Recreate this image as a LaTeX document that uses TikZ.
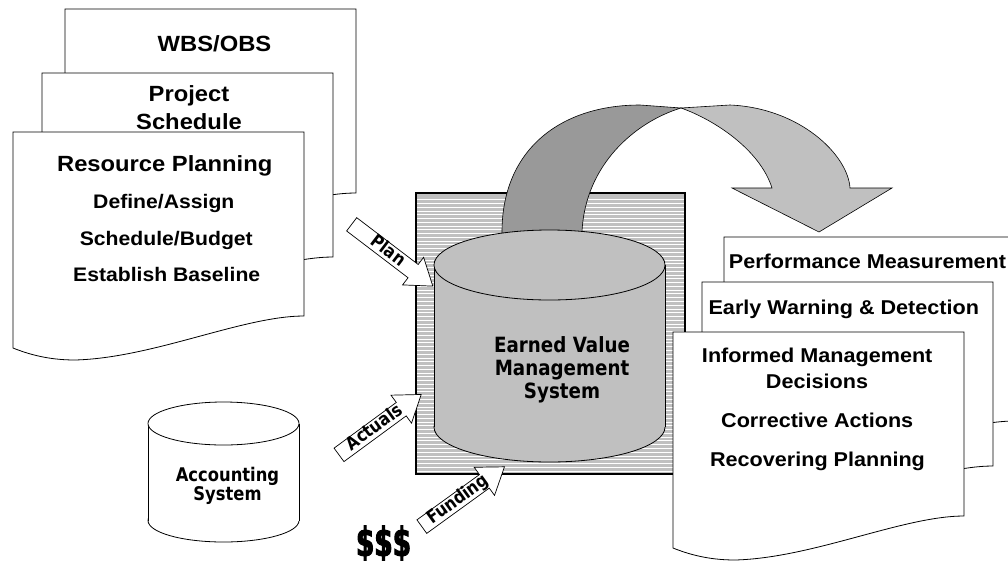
\documentclass[tikz,border=0pt]{standalone}
\usepackage{fontspec}
\usepackage{tikz}
\usetikzlibrary{positioning}
\usetikzlibrary{shapes.arrows}
\newfontfamily\pagefont[FakeStretch=1.08]{Liberation Sans}
\newfontfamily\evfont[FakeStretch=0.87]{DejaVu Sans}
\newfontfamily\dollarfont[FakeStretch=0.66, FakeBold=2.5]{DejaVu Sans Bold}
\definecolor{evgray}{RGB}{192,192,192}
\definecolor{ribbongray}{RGB}{153,153,153}

\tikzset{
    pageedge/.style={draw, fill=white, line width=0.8pt},
    docpage/.pic={
        \path[pageedge] (0,0) -- (291,0) -- (291,184)
            .. controls (230,184) and (140,226) .. (62,228)
            .. controls (35,228) and (15,222) .. (0,216) -- cycle;
    },
    pagetitle/.style={font=\pagefont\bfseries\fontsize{22}{26}\selectfont, inner sep=0pt, anchor=base},
    pagesub/.style={font=\pagefont\bfseries\fontsize{19.6}{23}\selectfont, inner sep=0pt, anchor=base},
    outtext/.style={font=\pagefont\bfseries\fontsize{20}{24}\selectfont, inner sep=0pt, anchor=base},
    cyltext/.style={font=\evfont\bfseries\fontsize{21}{23}\selectfont, align=center, inner sep=0pt},
    blockarrow/.style={single arrow, draw, fill=white, line width=0.7pt, minimum height=102pt,
        single arrow head extend=9pt, single arrow tip angle=70, inner xsep=2pt, inner ysep=1.5pt,
        text height=11pt, text depth=2pt, font=\evfont\bfseries\fontsize{18}{20}\selectfont},
}

\begin{document}
\begin{tikzpicture}[x=1pt, y=-1pt]
    \useasboundingbox (0,0) rectangle (1008,560);

    % planning documents
    \pic at (65,9) {docpage};
    \pic at (42,73) {docpage};
    \pic at (13,132) {docpage};

    \node[pagetitle] (wbs) at (214.5,51.7) {WBS/OBS};
    \node[pagetitle] (project) at (189,101) {Project};
    \node[pagetitle] (schedule) at (189,129.3) {Schedule};
    \node[pagetitle] (resource) at (164.7,171.7) {Resource Planning};
    \node[pagesub] (define) at (163.8,208.3) {Define/Assign};
    \node[pagesub] (budget) at (166.3,245.7) {Schedule/Budget};
    \node[pagesub] (baseline) at (166.7,281.7) {Establish Baseline};

    % hatched frame
    \fill[evgray] (416,193) rectangle (685,474);
    \foreach \hy in {199.7,203.47,...,472}
        \draw[white, line width=1pt] (417,\hy) -- (684,\hy);
    \draw[line width=2pt] (416,193) rectangle (685,474);

    % curved arrow
    \draw[fill=evgray, line width=0.6pt] (681,108) -- (730,105)
        .. controls (800,108) and (848,155) .. (850,188) -- (892,188) -- (819,232)
        -- (732,188) -- (772,188) .. controls (760,150) and (715,120) .. (681,108) -- cycle;
    \draw[fill=ribbongray, line width=0.6pt] (502,238) -- (502,232)
        .. controls (502,150) and (560,105) .. (640,105) -- (681,108)
        .. controls (635,122) and (585,165) .. (582,232) -- (582,238) -- cycle;

    % EVMS cylinder
    \draw[fill=evgray, line width=0.8pt] (549.5,427) ellipse [x radius=115.5, y radius=35];
    \fill[evgray] (434,265) rectangle (665,427);
    \draw[line width=0.8pt] (434,265) -- (434,427);
    \draw[line width=0.8pt] (665,265) -- (665,427);
    \draw[fill=evgray, line width=0.8pt] (549.5,265) ellipse [x radius=115.5, y radius=35];
    \node[cyltext] (evms) at (562,370.2) {Earned Value\\Management\\System};

    % results documents
    \pic at (724,237) {docpage};
    \pic at (702,282) {docpage};
    \pic at (673,332) {docpage};

    \node[outtext] (perf) at (867.5,268.3) {Performance Measurement};
    \node[outtext] (warning) at (843.8,314) {Early Warning \& Detection};
    \node[outtext] (informed) at (817.2,362.3) {Informed Management};
    \node[outtext] (decisions) at (817,388.3) {Decisions};
    \node[outtext] (corrective) at (817.2,427.7) {Corrective Actions};
    \node[outtext] (recover) at (817.5,466) {Recovering Planning};

    % accounting system
    \draw[fill=white, line width=0.8pt] (223.5,520.5) ellipse [x radius=75.5, y radius=21.5];
    \fill[white] (148,423.5) rectangle (299,520.5);
    \draw[line width=0.8pt] (148,423.5) -- (148,520.5);
    \draw[line width=0.8pt] (299,423.5) -- (299,520.5);
    \draw[fill=white, line width=0.8pt] (223.5,423.5) ellipse [x radius=75.5, y radius=21.5];
    \node[cyltext, font=\evfont\bfseries\fontsize{18.8}{19.5}\selectfont] (accounting) at (227.5,485.7) {Accounting\\System};

    \node[font=\dollarfont\fontsize{40}{42}\selectfont, inner sep=0pt, anchor=base] (money) at (383.5,556) {\$\$\$};

    % inputs
    \node[blockarrow, rotate=-37.3] (plan) at (387.5,251.6) {Plan};
    \node[blockarrow, rotate=36.3] (actuals) at (375.3,428.2) {Actuals};
    \node[blockarrow, rotate=35.9] (funding) at (458.3,500.2) {Funding};
\end{tikzpicture}
\end{document}
